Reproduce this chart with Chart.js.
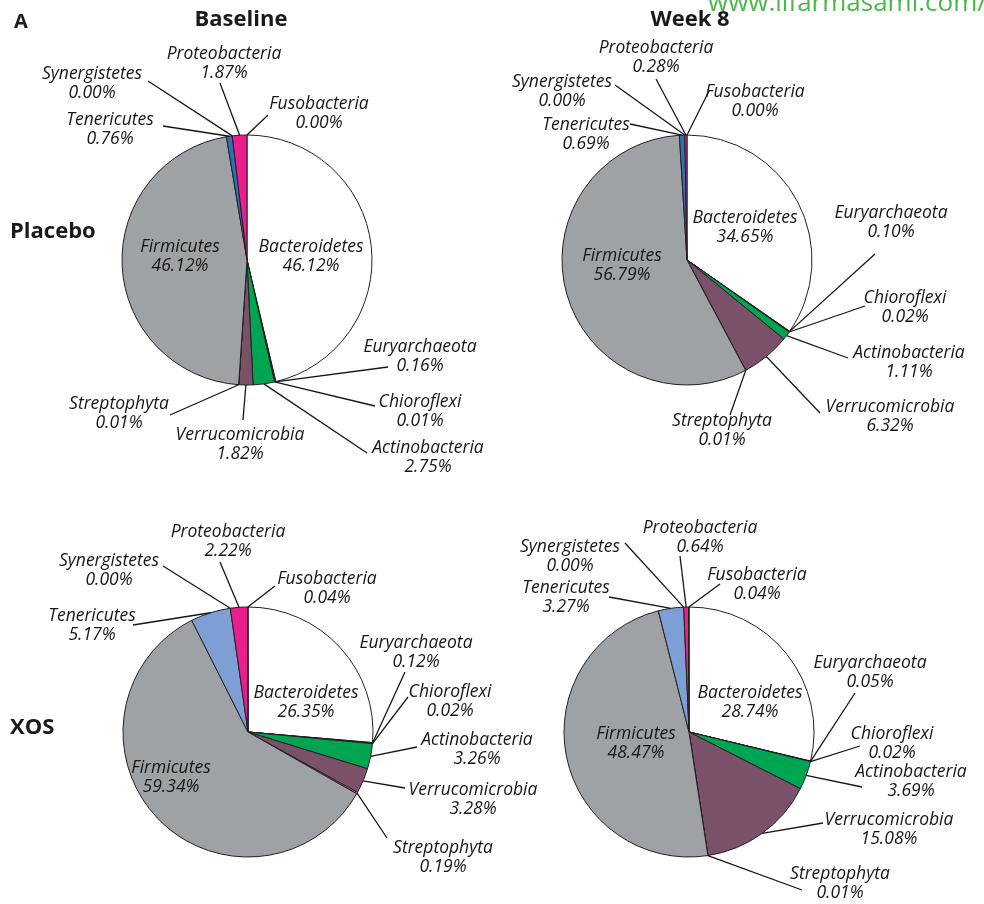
<!DOCTYPE html>
<html>
<head>
<meta charset="utf-8">
<script src="https://cdn.jsdelivr.net/npm/chart.js@4.4.0/dist/chart.umd.min.js"></script>
<style>
  html, body { margin: 0; padding: 0; background: #fff; }
  #wrap { position: relative; width: 984px; height: 904px; overflow: hidden; font-family: "Open Sans", sans-serif; color: #1a1a1a; }
  #wrap canvas { position: absolute; left: 0; top: 0; }
  .head { position: absolute; font-weight: bold; font-size: 22px; line-height: 22px; white-space: nowrap; }
  .col { width: 200px; text-align: center; }
  .mark { position: absolute; left: 708px; top: -14px; color: #4cb848; font-size: 26px; line-height: 30px; white-space: nowrap; }
</style>
</head>
<body>
<div id="wrap">
  <canvas id="pb" width="984" height="904"></canvas>
  <canvas id="pw" width="984" height="904"></canvas>
  <canvas id="xb" width="984" height="904"></canvas>
  <canvas id="xw" width="984" height="904"></canvas>
  <div class="mark">www.lifarmasami.com/</div>
  <div class="head" style="left:14px;top:10px;font-size:20px">A</div>
  <div class="head col" style="left:141px;top:6px">Baseline</div>
  <div class="head col" style="left:590px;top:6px">Week 8</div>
  <div class="head" style="left:10px;top:218px">Placebo</div>
  <div class="head" style="left:10px;top:714px">XOS</div>
</div>
<script>
// phyla, in pie order (clockwise from 12 o'clock)
const phyla = ['Bacteroidetes', 'Euryarchaeota', 'Chioroflexi', 'Actinobacteria', 'Verrucomicrobia',
  'Streptophyta', 'Firmicutes', 'Tenericutes', 'Synergistetes', 'Proteobacteria', 'Fusobacteria'];

// relative abundance (%)
const placeboBaseline = [46.12, 0.16, 0.01, 2.75, 1.82, 0.01, 46.12, 0.76, 0.00, 1.87, 0.00];
const placeboWeek8 = [34.65, 0.10, 0.02, 1.11, 6.32, 0.01, 56.79, 0.69, 0.00, 0.28, 0.00];
const xosBaseline = [26.35, 0.12, 0.02, 3.26, 3.28, 0.19, 59.34, 5.17, 0.00, 2.22, 0.04];
const xosWeek8 = [28.74, 0.05, 0.02, 3.69, 15.08, 0.01, 48.47, 3.27, 0.00, 0.64, 0.04];

const placeboColors = ['#ffffff', '#a3222b', '#f6a01a', '#00a551', '#7b5169', '#f28a7a',
  '#9ea2a5', '#2d70b7', '#555555', '#ea1e8c', '#5b2c83'];
const xosColors = placeboColors.slice();
xosColors[7] = '#7e9fd4';

// label placement relative to pie centre: [textX, textY, lineEndX, lineEndY] (no line = inside label)
const pbLabels = [[64, -8], [173, 92, 141, 107], [173, 147, 128, 146], [181, 193, 120, 193],
  [-7, 180, -4, 160], [-128, 149, -77, 155], [-67, -8], [-137, -135, -84, -134],
  [-155, -181, -99, -179], [-23, -201, -27, -177], [72, -151, 21, -145]];
const pwLabels = [[58, -37], [204, -42, 188, -6], [218, 43, 178, 46], [222, 98, 161, 98],
  [203, 152, 133, 153], [35, 166, 43, 155], [-65, 1], [-101, -130, -57, -136],
  [-125, -173, -72, -175], [-31, -207, -31, -181], [68, -163, 22, -169]];
const xbLabels = [[58, -34], [168, -84, 157, -60], [202, -35, 160, -35], [229, 13, 169, 15],
  [225, 63, 157, 56], [195, 121, 139, 106], [-77, 41], [-156, -111, -115, -107],
  [-139, -166, -85, -166], [-20, -195, -28, -170], [79, -148, 27, -146]];
const xwLabels = [[61, -34], [181, -64, 166, -39], [203, 7, 171, 14], [222, 45, 173, 55],
  [200, 93, 134, 91], [151, 147, 113, 158], [-53, 7], [-123, -139, -80, -135],
  [-119, -180, -64, -189], [11, -199, -9, -176], [68, -152, 31, -148]];

const leaderLabels = {
  id: 'leaderLabels',
  afterDatasetsDraw(chart, args, opts) {
    const { ctx } = chart;
    const meta = chart.getDatasetMeta(0);
    const vals = chart.data.datasets[0].data;
    const cx = meta.data[0].x, cy = meta.data[0].y;
    ctx.save();
    ctx.font = 'italic 17.5px "Open Sans"';
    ctx.textAlign = 'center';
    ctx.textBaseline = 'alphabetic';
    ctx.fillStyle = '#161616';
    ctx.strokeStyle = '#161616';
    ctx.lineWidth = 1.3;
    opts.pos.forEach((p, i) => {
      const arc = meta.data[i];
      if (p.length > 2) {
        const mid = (arc.startAngle + arc.endAngle) / 2;
        const r = arc.outerRadius;
        ctx.beginPath();
        ctx.moveTo(cx + Math.cos(mid) * r, cy + Math.sin(mid) * r);
        ctx.lineTo(cx + p[2], cy + p[3]);
        ctx.stroke();
      }
      ctx.fillText(chart.data.labels[i], cx + p[0], cy + p[1]);
      ctx.fillText(vals[i].toFixed(2) + '%', cx + p[0], cy + p[1] + 18.5);
    });
    ctx.restore();
  }
};

function drawPie(id, values, colors, labelPos, cx, cy) {
  const half = 135;
  new Chart(document.getElementById(id), {
    type: 'pie',
    data: {
      labels: phyla,
      datasets: [{
        data: values,
        backgroundColor: colors,
        borderColor: '#231f20',
        borderWidth: 1
      }]
    },
    options: {
      responsive: false,
      animation: false,
      radius: 125,
      layout: {
        padding: { left: cx - half, right: 984 - cx - half, top: cy - half, bottom: 904 - cy - half }
      },
      plugins: {
        legend: { display: false },
        tooltip: { enabled: false },
        leaderLabels: { pos: labelPos }
      }
    },
    plugins: [leaderLabels]
  });
}

drawPie('pb', placeboBaseline, placeboColors, pbLabels, 247, 260);
drawPie('pw', placeboWeek8, placeboColors, pwLabels, 687, 260);
drawPie('xb', xosBaseline, xosColors, xbLabels, 248, 732);
drawPie('xw', xosWeek8, xosColors, xwLabels, 689, 732);
</script>
</body>
</html>
